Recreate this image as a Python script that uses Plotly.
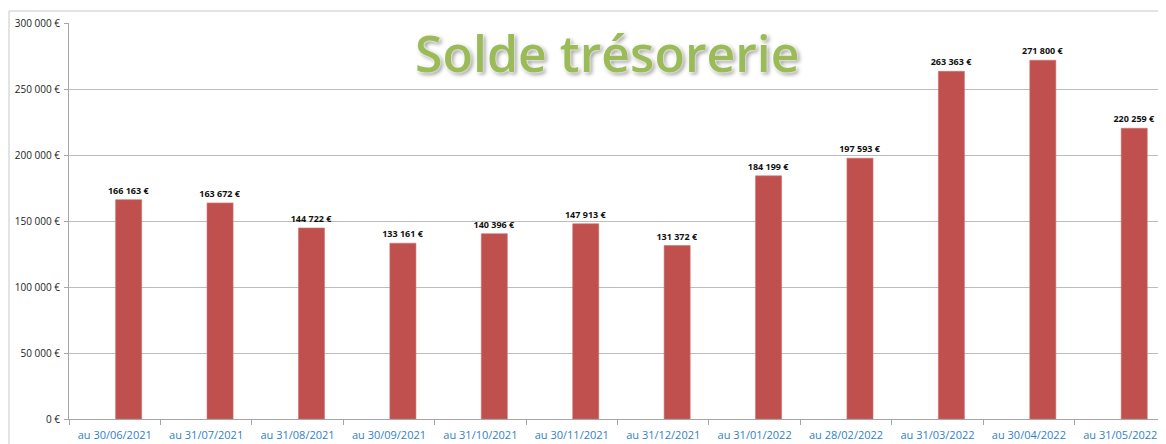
import plotly.graph_objects as go

categories = ["au 30/06/2021", "au 31/07/2021", "au 31/08/2021", "au 30/09/2021",
              "au 31/10/2021", "au 30/11/2021", "au 31/12/2021", "au 31/01/2022",
              "au 28/02/2022", "au 31/03/2022", "au 30/04/2022", "au 31/05/2022"]
values = [166163, 163672, 144722, 133161, 140396, 147913, 131372, 184199,
          197593, 263363, 271800, 220259]
tick_vals = [0, 50000, 100000, 150000, 200000, 250000, 300000]
title_text = "Solde trésorerie"


def eur(v):
    return f"{v:,}".replace(",", " ") + " €"


tick_text = [eur(v) for v in tick_vals]
labels = [eur(v) for v in values]

fig = go.Figure(go.Bar(
    x=categories, y=values, text=labels, textposition="outside",
    constraintext="none", width=0.285, offset=0.01,
    textfont=dict(family="Open Sans", size=9, color="#111111", weight="bold"),
    marker=dict(color="#c0504d", line=dict(color="#d0706d", width=0.6)),
    cliponaxis=False, hoverinfo="skip",
))

fig.update_layout(
    width=1158, height=436,
    margin=dict(l=61, r=0, t=15, b=25),
    paper_bgcolor="white", plot_bgcolor="white",
    showlegend=False,
    font=dict(family="Open Sans"),
)
fig.update_xaxes(
    type="category", range=[-0.5, 11.5], tickson="boundaries",
    ticks="outside", ticklen=5, tickcolor="#a6a6a6", ticklabelstandoff=6,
    showline=True, linecolor="#a6a6a6", linewidth=1,
    tickfont=dict(family="Open Sans", size=11, color="#2f7fc8"),
    showgrid=False,
)
fig.update_yaxes(
    range=[0, 300000], tickvals=tick_vals, ticktext=tick_text,
    ticks="outside", ticklen=4, tickcolor="#a6a6a6", ticklabelstandoff=2,
    showline=True, linecolor="#a6a6a6", linewidth=1,
    gridcolor="#bdbdbd", gridwidth=1, zeroline=False,
    tickfont=dict(family="Open Sans", size=10, color="#222222"),
)

# outer chart border
fig.add_shape(type="rect", xref="paper", yref="paper",
              x0=-60 / 1097, x1=1.05, y0=-0.2, y1=1 + 12 / 396,
              line=dict(color="#c8c8c8", width=1), fillcolor="rgba(0,0,0,0)",
              layer="below")

fig.add_annotation(
    text=title_text, xref="paper", yref="paper", x=(607 - 69) / 1097, y=(419 - 53) / 396,
    xanchor="center", yanchor="middle", showarrow=False,
    font=dict(family="Open Sans", size=50, color="#9bbb59", weight=600,
              shadow="0px 0px 2px #ffffff, 0px 0px 3px #ffffff, 2px 2px 4px #8a8a8a"),
)

fig.write_html("out.html")
